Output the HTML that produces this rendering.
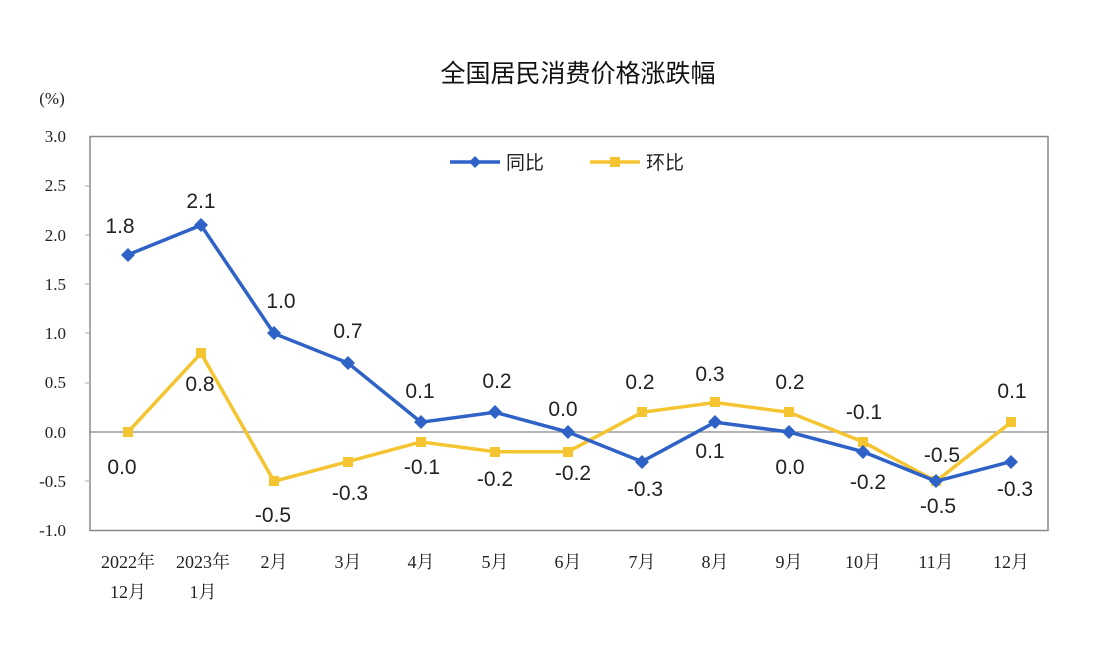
<!DOCTYPE html>
<html><head><meta charset="utf-8"><style>body{margin:0;background:#fff}svg{display:block}</style></head><body>
<svg width="1102" height="670" xmlns="http://www.w3.org/2000/svg">
<rect width="1102" height="670" fill="#fff"/>
<text x="578" y="82" font-family="'Liberation Sans','Noto Sans CJK SC',sans-serif" font-size="25" text-anchor="middle" fill="#111">全国居民消费价格涨跌幅</text>
<text x="52" y="104" font-family="'Liberation Serif',serif" font-size="17" text-anchor="middle" fill="#222">(%)</text>
<rect x="90" y="136.5" width="958" height="394" fill="none" stroke="#888" stroke-width="1.5"/>
<line x1="90" y1="432" x2="1048" y2="432" stroke="#888" stroke-width="1.3"/>
<g font-family="'Liberation Serif',serif" font-size="17" fill="#222" text-anchor="end">
<text x="66" y="142">3.0</text><text x="66" y="191">2.5</text><text x="66" y="241">2.0</text><text x="66" y="290">1.5</text><text x="66" y="339">1.0</text><text x="66" y="388">0.5</text><text x="66" y="438">0.0</text><text x="66" y="487">-0.5</text><text x="66" y="536">-1.0</text>
</g>
<g stroke="#aaa" stroke-width="1"><line x1="85" y1="186" x2="90" y2="186"/><line x1="85" y1="235" x2="90" y2="235"/><line x1="85" y1="284" x2="90" y2="284"/><line x1="85" y1="333" x2="90" y2="333"/><line x1="85" y1="383" x2="90" y2="383"/><line x1="85" y1="481" x2="90" y2="481"/></g>
<g font-family="'Liberation Serif','Noto Serif CJK SC',serif" font-size="18" fill="#222" text-anchor="middle">
<text x="128" y="568">2022年</text><text x="128" y="598">12月</text>
<text x="203" y="568">2023年</text><text x="203" y="598">1月</text>
<text x="274" y="568">2月</text><text x="348" y="568">3月</text><text x="421" y="568">4月</text><text x="495" y="568">5月</text><text x="568" y="568">6月</text><text x="642" y="568">7月</text><text x="715" y="568">8月</text><text x="789" y="568">9月</text><text x="863" y="568">10月</text><text x="936" y="568">11月</text><text x="1011" y="568">12月</text>
</g>
<polyline fill="none" stroke="#F5C431" stroke-width="3.5" points="128,432 201,353.2 274,481.3 348,461.6 421,441.9 495,451.7 568,451.7 642,412.3 715,402.5 789,412.3 863,441.9 936,481.3 1011,422.2"/>
<g fill="#F5C431"><rect x="123" y="427" width="10" height="10"/><rect x="196" y="348" width="10" height="10"/><rect x="269" y="476" width="10" height="10"/><rect x="343" y="457" width="10" height="10"/><rect x="416" y="437" width="10" height="10"/><rect x="490" y="447" width="10" height="10"/><rect x="563" y="447" width="10" height="10"/><rect x="637" y="407" width="10" height="10"/><rect x="710" y="397" width="10" height="10"/><rect x="784" y="407" width="10" height="10"/><rect x="858" y="437" width="10" height="10"/><rect x="931" y="476" width="10" height="10"/><rect x="1006" y="417" width="10" height="10"/></g>
<polyline fill="none" stroke="#2F62C6" stroke-width="3.5" points="128,254.7 201,225.2 274,333.5 348,363 421,422.2 495,412.3 568,432 642,461.6 715,422.2 789,432 863,451.7 936,481.3 1011,461.6"/>
<g fill="#2F62C6">
<path d="M128,248l7,7-7,7-7-7z"/><path d="M201,218l7,7-7,7-7-7z"/><path d="M274,326l7,7-7,7-7-7z"/><path d="M348,356l7,7-7,7-7-7z"/><path d="M421,415l7,7-7,7-7-7z"/><path d="M495,405l7,7-7,7-7-7z"/><path d="M568,425l7,7-7,7-7-7z"/><path d="M642,455l7,7-7,7-7-7z"/><path d="M715,415l7,7-7,7-7-7z"/><path d="M789,425l7,7-7,7-7-7z"/><path d="M863,445l7,7-7,7-7-7z"/><path d="M936,474l7,7-7,7-7-7z"/><path d="M1011,455l7,7-7,7-7-7z"/></g>
<g font-family="'Liberation Sans',sans-serif" font-size="21" fill="#222" text-anchor="middle">
<text x="120" y="233">1.8</text><text x="201" y="208">2.1</text><text x="281" y="308">1.0</text><text x="348" y="338">0.7</text><text x="420" y="398">0.1</text><text x="497" y="388">0.2</text><text x="563" y="416">0.0</text><text x="645" y="496">-0.3</text><text x="710" y="458">0.1</text><text x="790" y="474">0.0</text><text x="868" y="489">-0.2</text><text x="938" y="513">-0.5</text><text x="1015" y="496">-0.3</text>
<text x="122" y="474">0.0</text><text x="200" y="391">0.8</text><text x="273" y="522">-0.5</text><text x="350" y="500">-0.3</text><text x="422" y="474">-0.1</text><text x="495" y="486">-0.2</text><text x="573" y="480">-0.2</text><text x="640" y="389">0.2</text><text x="710" y="381">0.3</text><text x="790" y="389">0.2</text><text x="864" y="419">-0.1</text><text x="942" y="462">-0.5</text><text x="1012" y="398">0.1</text>
</g>
<line x1="450" y1="162" x2="500" y2="162" stroke="#2F62C6" stroke-width="3.5"/><path d="M475,156l6,6-6,6-6-6z" fill="#2F62C6"/>
<text x="506" y="169" font-family="'Liberation Sans','Noto Sans CJK SC',sans-serif" font-size="19" fill="#222">同比</text>
<line x1="590" y1="162" x2="640" y2="162" stroke="#F5C431" stroke-width="3.5"/><rect x="610" y="157" width="10" height="10" fill="#F5C431"/>
<text x="646" y="169" font-family="'Liberation Sans','Noto Sans CJK SC',sans-serif" font-size="19" fill="#222">环比</text>
</svg>
</body></html>
